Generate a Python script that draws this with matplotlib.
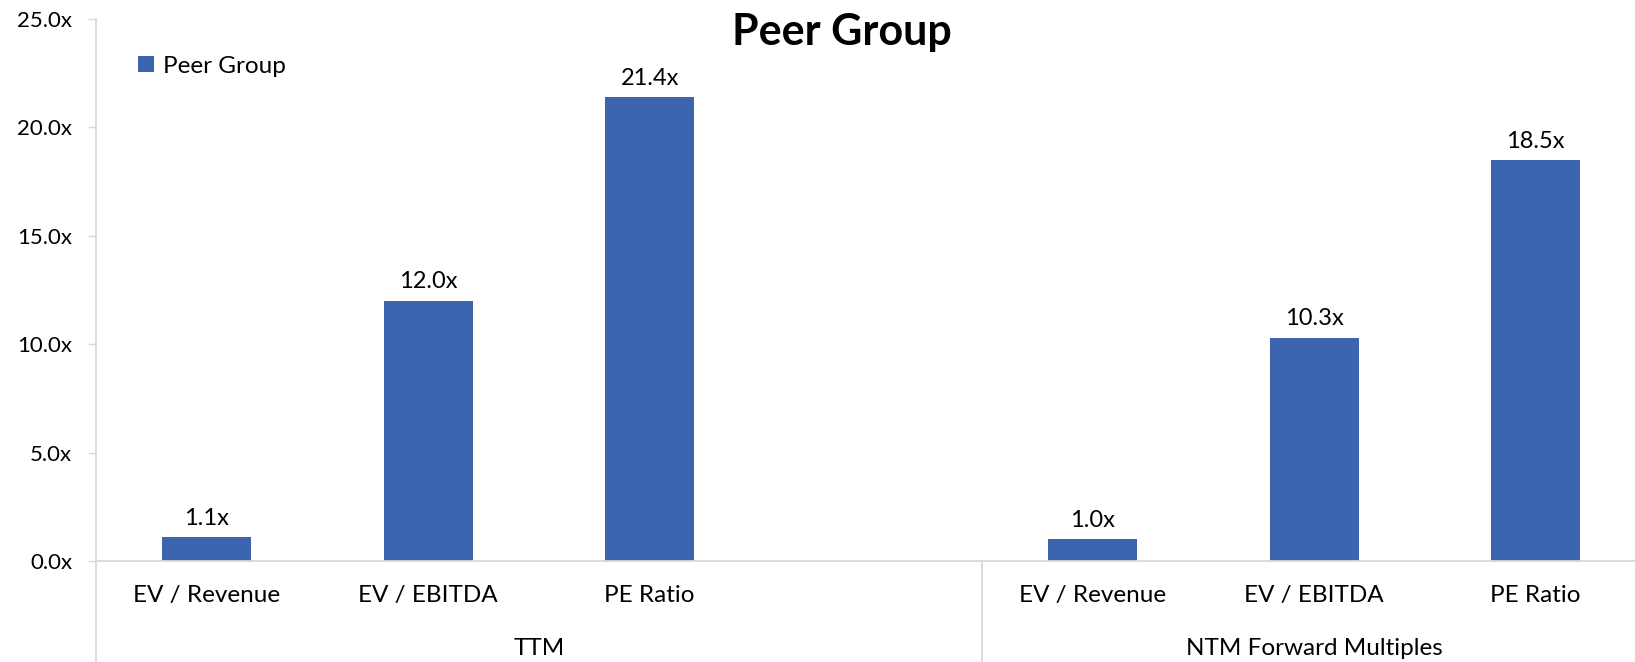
import matplotlib.pyplot as plt
from matplotlib.transforms import blended_transform_factory

plt.rcParams['font.family'] = ['Lato', 'DejaVu Sans']

# data
categories = ['EV / Revenue', 'EV / EBITDA', 'PE Ratio',
              'EV / Revenue', 'EV / EBITDA', 'PE Ratio']
positions = [0, 1, 2, 4, 5, 6]   # slot 3 is empty in the TTM group
values = [1.1, 12.0, 21.4, 1.0, 10.3, 18.5]
groups = ['TTM', 'NTM Forward Multiples']
group_bounds = [(-0.5, 3.5), (3.5, 6.5)]
series_name = 'Peer Group'

bar_color = '#3D64AE'
line_color = '#D9D9D9'

fig = plt.figure(figsize=(16.35, 6.62), dpi=100)
ax = fig.add_axes([0.0587, 0.1526, 0.9483, 0.8187])

bars = ax.bar(positions, values, width=0.40, color=bar_color, label=series_name)
ax.bar_label(bars, labels=['%.1fx' % v for v in values], padding=6, fontsize=17)

ax.set_xlim(-0.5, 6.5)
ax.set_ylim(0, 25)
ax.set_yticks([0, 5, 10, 15, 20, 25])
ax.set_yticklabels(['%.1fx' % t for t in [0, 5, 10, 15, 20, 25]], fontsize=16)
ax.tick_params(axis='y', length=6, width=1, color=line_color, pad=11)

ax.set_xticks(positions)
ax.set_xticklabels(categories, fontsize=17.5)
ax.tick_params(axis='x', length=0, pad=17)

for s in ['top', 'right', 'bottom', 'left']:
    ax.spines[s].set_visible(False)

# axis lines
trans = blended_transform_factory(ax.transData, ax.transAxes)
ax.axhline(0, color=line_color, lw=1.3, clip_on=False)
ax.plot([-0.5, -0.5], [1, -0.2], transform=trans, color=line_color, lw=1.3, clip_on=False)
ax.plot([3.5, 3.5], [0, -0.2], transform=trans, color=line_color, lw=1.3, clip_on=False)

# group labels
for name, (a, b) in zip(groups, group_bounds):
    ax.text((a + b) / 2, -0.162, name, transform=trans, ha='center', va='center', fontsize=17.5)

ax.legend(loc='center left', bbox_to_anchor=(0.027, 0.913), frameon=False, fontsize=17.5,
          handlelength=0.65, handleheight=0.65, handletextpad=0.4, borderpad=0, borderaxespad=0)

fig.text(0.515, 0.952, 'Peer Group', ha='center', va='center', fontsize=31, fontweight='bold')

fig.savefig('out.png', dpi=100)
